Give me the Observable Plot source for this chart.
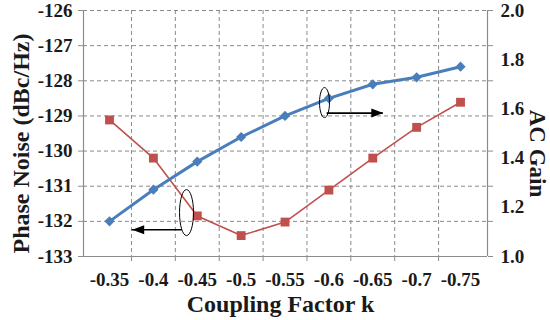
<!DOCTYPE html>
<html>
<head>
<meta charset="utf-8">
<script src="https://cdn.jsdelivr.net/npm/d3@7"></script>
<script src="https://cdn.jsdelivr.net/npm/@observablehq/plot@0.6"></script>
<style>
  html, body { margin: 0; padding: 0; background: #fff; }
  #chart svg { font-family: 'Liberation Serif', 'Times New Roman', serif !important; font-weight: bold; }
</style>
</head>
<body>
<div id="chart"></div>
<script>
// ---- data ----
const categories = ["-0.35", "-0.4", "-0.45", "-0.5", "-0.55", "-0.6", "-0.65", "-0.7", "-0.75"];
const phaseNoise = [-132.0, -131.1, -130.3, -129.6, -129.0, -128.5, -128.1, -127.9, -127.6];
const acGain = [1.555, 1.40, 1.165, 1.085, 1.14, 1.27, 1.40, 1.525, 1.627];
const leftTicks = [-133, -132, -131, -130, -129, -128, -127, -126];
const leftTickLabels = ["-133", "-132", "-131", "-130", "-129", "-128", "-127", "-126"];
const rightTicks = [1.0, 1.2, 1.4, 1.6, 1.8, 2.0];
const rightTickLabels = ["1.0", "1.2", "1.4", "1.6", "1.8", "2.0"];
const leftDomain = [-133, -126];
const rightDomain = [1.0, 2.0];
const xTitle = "Coupling Factor k";
const yTitle = "Phase Noise (dBc/Hz)";
const y2Title = "AC Gain";
// annotation anchors in data coordinates (x = category index, y = left axis)
const ellipseLeft = [{x: 1.755, y: -131.75}];
const ellipseRight = [{x: 4.90, y: -128.62}];
const arrowLeft = [{x1: 1.657, x2: 0.517, y: -132.24}];
const arrowRight = [{x1: 4.96, x2: 6.24, y: -128.92}];

// map AC gain onto the left axis scale
const toLeft = g => leftDomain[0] + (g - rightDomain[0]) * (leftDomain[1] - leftDomain[0]) / (rightDomain[1] - rightDomain[0]);

const blueData = categories.map((c, i) => ({i, v: phaseNoise[i]}));
const redData = categories.map((c, i) => ({i, v: toLeft(acGain[i])}));
const xBoundaries = d3.range(categories.length - 1).map(i => i + 0.5);
const xDomain = [-0.593, categories.length - 1 + 0.615];
const rightTickPos = rightTicks.map(toLeft);

function ellipseSymbol(rx, ry) {
  const k = 0.5523;
  return {draw(c) {
    c.moveTo(rx, 0);
    c.bezierCurveTo(rx, k * ry, k * rx, ry, 0, ry);
    c.bezierCurveTo(-k * rx, ry, -rx, k * ry, -rx, 0);
    c.bezierCurveTo(-rx, -k * ry, -k * rx, -ry, 0, -ry);
    c.bezierCurveTo(k * rx, -ry, rx, -k * ry, rx, 0);
    c.closePath();
  }};
}
function headSymbol(dir) {
  const L = 12, H = 4.5;
  return {draw(c) {
    c.moveTo(0, 0);
    c.lineTo(-dir * L, -H);
    c.lineTo(-dir * L, H);
    c.closePath();
  }};
}

const font = "Liberation Serif";
const textColor = "#1a1a1a";
const axisGray = "#8c8c8c";
const blue = "#4A7EBB";
const red = "#C0504D";

const plot = Plot.plot({
  width: 550,
  height: 320,
  marginLeft: 83,
  marginRight: 63,
  marginTop: 10,
  marginBottom: 64,
  style: {background: "white", overflow: "visible"},
  x: {type: "linear", domain: xDomain},
  y: {domain: leftDomain},
  marks: [
    Plot.gridY(leftTicks.slice(1), {stroke: "#8a8a8a", strokeOpacity: 1, strokeDasharray: "4,3", strokeWidth: 1}),
    Plot.gridX(xBoundaries, {stroke: "#8a8a8a", strokeOpacity: 1, strokeDasharray: "4,3", strokeWidth: 1}),
    Plot.ruleY([leftDomain[0]], {stroke: axisGray, strokeWidth: 1.2}),
    Plot.ruleX(xDomain, {stroke: axisGray, strokeWidth: 1.2}),
    // left axis
    Plot.axisY({anchor: "left", ticks: leftTicks, tickSize: 5, tickPadding: 6, tickFormat: d => leftTickLabels[leftTicks.indexOf(d)], fontSize: 19, fontFamily: font, fontWeight: "bold", stroke: axisGray, fill: textColor, label: null}),
    // right axis tick marks (aligned with grid) and labels
    Plot.axisY({anchor: "right", ticks: leftTicks, tickSize: 5, tickFormat: () => "", stroke: axisGray, label: null}),
    Plot.axisY({anchor: "right", ticks: rightTickPos, tickSize: 0, tickPadding: 13, tickFormat: y => rightTickLabels[rightTickPos.indexOf(y)], fontSize: 19, fontFamily: font, fontWeight: "bold", fill: textColor, label: null}),
    // x axis
    Plot.axisX({anchor: "bottom", ticks: xBoundaries, tickSize: 5, tickFormat: () => "", stroke: axisGray, label: null}),
    Plot.axisX({anchor: "bottom", ticks: d3.range(categories.length), tickSize: 0, tickPadding: 16, tickFormat: i => categories[i], fontSize: 19, fontFamily: font, fontWeight: "bold", fill: textColor, label: null}),
    // series
    Plot.line(redData, {x: "i", y: "v", stroke: red, strokeWidth: 1.6}),
    Plot.dot(redData, {x: "i", y: "v", symbol: "square", r: 5, fill: red, stroke: null}),
    Plot.line(blueData, {x: "i", y: "v", stroke: blue, strokeWidth: 3}),
    Plot.dot(blueData, {x: "i", y: "v", symbol: "diamond2", r: 4.6, fill: blue, stroke: null}),
    // annotations
    Plot.dot(ellipseLeft, {x: "x", y: "y", symbol: ellipseSymbol(7, 23), r: 5, fill: "none", stroke: "black", strokeWidth: 1}),
    Plot.dot(ellipseRight, {x: "x", y: "y", symbol: ellipseSymbol(5, 15), r: 5, fill: "none", stroke: "black", strokeWidth: 1}),
    Plot.ruleY(arrowLeft, {y: "y", x1: "x1", x2: "x2", stroke: "black", strokeWidth: 1.6}),
    Plot.dot(arrowLeft, {x: "x2", y: "y", symbol: headSymbol(-1), r: 5, fill: "black", stroke: null}),
    Plot.ruleY(arrowRight, {y: "y", x1: "x1", x2: "x2", stroke: "black", strokeWidth: 1.6}),
    Plot.dot(arrowRight, {x: "x2", y: "y", symbol: headSymbol(1), r: 5, fill: "black", stroke: null}),
    // titles
    Plot.text([xTitle], {frameAnchor: "bottom", textAnchor: "middle", dx: -5, dy: 48, lineAnchor: "middle", fontSize: 24, fontFamily: font, fontWeight: "bold", fill: textColor}),
    Plot.text([yTitle], {frameAnchor: "left", textAnchor: "middle", rotate: -90, dx: -62, dy: 10, lineAnchor: "middle", fontSize: 24, fontFamily: font, fontWeight: "bold", fill: textColor}),
    Plot.text([y2Title], {frameAnchor: "right", textAnchor: "middle", rotate: 90, dx: 50, dy: 20, lineAnchor: "middle", fontSize: 23, fontFamily: font, fontWeight: "bold", fill: textColor})
  ]
});
document.getElementById("chart").appendChild(plot);
</script>
</body>
</html>
